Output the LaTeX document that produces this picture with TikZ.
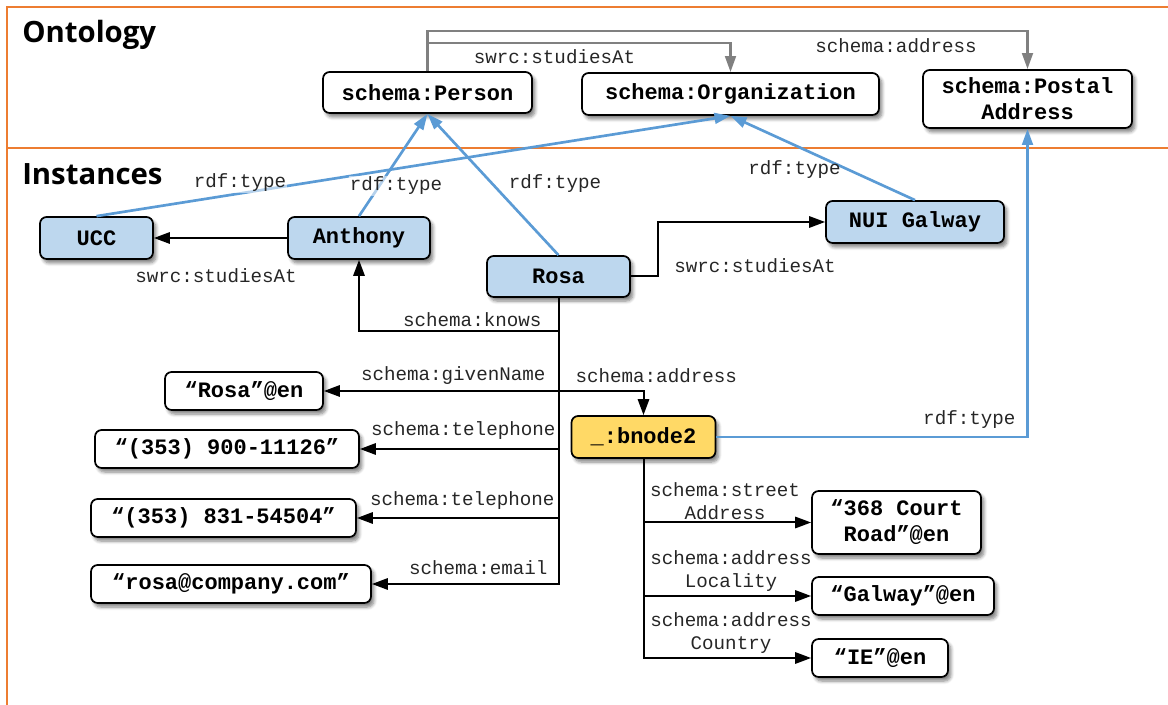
\documentclass[tikz,border=0pt]{standalone}
\usepackage{fontspec}
\setmonofont{Liberation Mono}
\newfontfamily\titlefont{Open Sans}
\usetikzlibrary{arrows.meta,shadows.blur}

\definecolor{frameorange}{HTML}{ED7D31}
\definecolor{instblue}{HTML}{BDD7EE}
\definecolor{bnodeyellow}{HTML}{FFD966}
\definecolor{typeblue}{HTML}{5B9BD5}
\definecolor{schemagray}{HTML}{808080}

\begin{document}
\begin{tikzpicture}[x=0.75pt,y=-0.75pt,
  box/.style={draw=black, line width=1.3pt, rounded corners=5pt, fill=white,
    font=\ttfamily\bfseries\fontsize{16.5}{19.5}\selectfont, align=center, inner sep=0pt,
    blur shadow={shadow xshift=2.2pt, shadow yshift=-3pt, shadow blur radius=2.5pt, shadow blur steps=6, shadow opacity=50}},
  inst/.style={box, fill=instblue},
  blank/.style={box, fill=bnodeyellow},
  elbl/.style={font=\ttfamily\fontsize{14.4}{17.25}\selectfont, text=black!85, inner sep=1pt, align=center},
  halo/.style={fill=white, fill opacity=0.55, text opacity=1},
  rel/.style={line width=1.5pt, -{Triangle[length=12pt,width=8.5pt]}},
  cls/.style={line width=2pt, draw=schemagray, -{Triangle[length=12pt,width=8pt]}},
  typ/.style={line width=2pt, draw=typeblue, -{Triangle[length=12pt,width=8pt]}},
  section/.style={font=\titlefont\bfseries\fontsize{22}{26}\selectfont, anchor=base west, inner sep=0pt},
  frameline/.style={draw=frameorange, line width=1.5pt},
]
\useasboundingbox (0,0) rectangle (1168,705);

% frame and section divider
\draw[frameline] (7,705) -- (7,7) -- (1168,7);
\draw[frameline] (7,148) -- (1168,148);
\node[section] (ontology) at (22,43) {Ontology};
\node[section] (instances) at (22,185) {Instances};

% ontology classes
\node[box, minimum width=156.75pt, minimum height=30.75pt] (person) at (427.5,92.5) {schema:Person};
\node[box, minimum width=222.75pt, minimum height=31.5pt] (org) at (730.5,94) {schema:Organization};
\node[box, minimum width=156.75pt, minimum height=43.5pt] (postal) at (1027.5,99) {schema:Postal\\Address};

% instances
\node[inst, minimum width=84.75pt, minimum height=31.5pt] (ucc) at (96.5,238) {UCC};
\node[inst, minimum width=106.5pt, minimum height=31.5pt] (anthony) at (359,238) {Anthony};
\node[inst, minimum width=107.25pt, minimum height=30.75pt] (rosa) at (558.5,276.5) {Rosa};
\node[inst, minimum width=133.5pt, minimum height=31.5pt] (nui) at (915,222) {NUI Galway};
\node[blank, minimum width=108pt, minimum height=31.5pt] (bnode) at (643.5,437) {\_:bnode2};

% literals
\node[box, minimum width=118.5pt, minimum height=28.5pt] (rosaen) at (244,391) {“Rosa”@en};
\node[box, minimum width=198pt, minimum height=28.5pt] (tel1) at (227,449) {“(353) 900-11126”};
\node[box, minimum width=198.75pt, minimum height=28.5pt] (tel2) at (223.5,518) {“(353) 831-54504”};
\node[box, minimum width=210pt, minimum height=28.5pt] (email) at (231,584) {“rosa@company.com”};
\node[box, minimum width=126.75pt, minimum height=47.25pt] (court) at (896.5,522.5) {“368 Court\\Road”@en};
\node[box, minimum width=136.5pt, minimum height=28.5pt] (galway) at (903,596) {“Galway”@en};
\node[box, minimum width=102pt, minimum height=28.5pt] (ie) at (880,658) {“IE”@en};

% bend points
\coordinate (g1) at (427.5,43);
\coordinate (g2) at (427.5,31);
\coordinate (r1) at (658,276.5);
\coordinate (tk) at (558.5,331);
\coordinate (ta) at (600,391);

% ontology properties
\draw[cls] (person.north) -- (g2) -| (postal.north);
\draw[cls] (person.north) -- (g1) -| (org.north);

% rdf:type links
\draw[typ] (ucc.north) -- (org.south);
\draw[typ] (anthony.north) -- (person.south);
\draw[typ] (rosa.north) -- (person.south);
\draw[typ] (nui.north) -- (org.south);
\draw[typ] (bnode.east) -| (postal.south);

% instance properties
\draw[rel] (anthony.west) -- (ucc.east);
\draw[rel] (rosa.east) -- (r1) |- (nui.west);
\draw[rel] (rosa.south) -- (tk) -| (anthony.south);
\draw[rel] (rosa.south) |- (rosaen.east);
\draw[rel] (rosa.south) |- (ta) -| (bnode.north);
\draw[rel] (rosa.south) |- (tel1.east);
\draw[rel] (rosa.south) |- (tel2.east);
\draw[rel] (rosa.south) |- (email.east);
\draw[rel] (bnode.south) |- (court.west);
\draw[rel] (bnode.south) |- (galway.west);
\draw[rel] (bnode.south) |- (ie.west);

% edge labels
\node[elbl] (l-studies-o) at (554.5,57) {swrc:studiesAt};
\node[elbl] (l-address-o) at (896,46) {schema:address};
\node[elbl, halo] (l-type-ucc) at (240,183) {rdf:type};
\node[elbl, halo] (l-type-ant) at (396,186) {rdf:type};
\node[elbl] (l-type-rosa) at (555,184) {rdf:type};
\node[elbl] (l-type-nui) at (794.5,170) {rdf:type};
\node[elbl] (l-studies-ant) at (216,276) {swrc:studiesAt};
\node[elbl] (l-studies-rosa) at (755,266) {swrc:studiesAt};
\node[elbl, anchor=east] (l-knows) at (543,320) {schema:knows};
\node[elbl, anchor=east] (l-given) at (547,376) {schema:givenName};
\node[elbl, anchor=west] (l-address) at (574,376) {schema:address};
\node[elbl, anchor=east] (l-tel1) at (557,431) {schema:telephone};
\node[elbl, anchor=east] (l-tel2) at (556,501) {schema:telephone};
\node[elbl, anchor=east] (l-email) at (549,568) {schema:email};
\node[elbl, anchor=east] (l-type-bnode) at (1017,420) {rdf:type};
\node[elbl] (l-street) at (725,501.5) {schema:street\\Address};
\node[elbl] (l-locality) at (731,571) {schema:address\\Locality};
\node[elbl] (l-country) at (731,633.5) {schema:address\\Country};
\end{tikzpicture}
\end{document}
